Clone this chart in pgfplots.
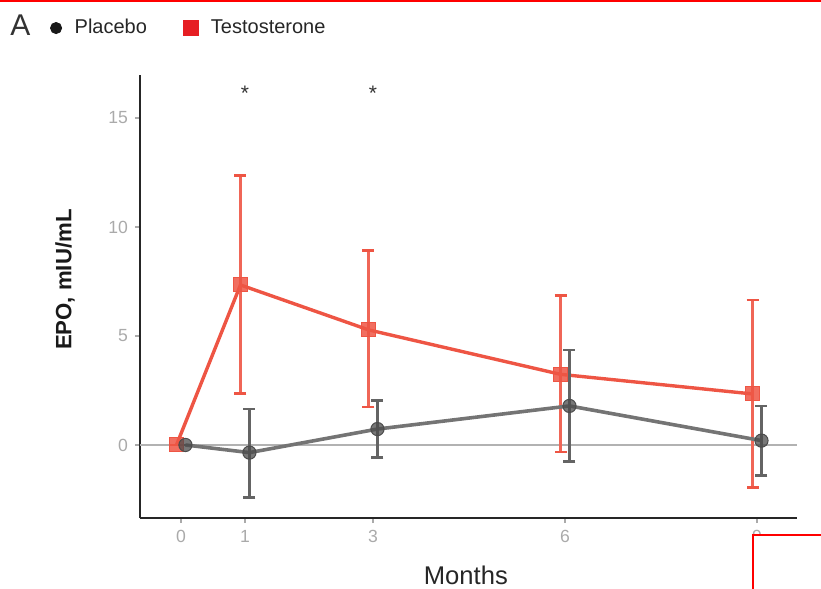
\documentclass[border=0pt]{standalone}
\usepackage{pgfplots}
\usepackage{pgfplotstable}
\pgfplotsset{compat=1.18}
\usepackage{fontspec}
\setmainfont{Liberation Sans}

\definecolor{tred}{RGB}{238,85,68}
\definecolor{pgray}{RGB}{100,100,100}
\definecolor{legred}{RGB}{230,30,35}
\definecolor{ticklab}{RGB}{170,170,170}

\pgfplotstableread{
x y ep em
-0.07 0 0 0
0.93 7.34 5.01 4.97
2.93 5.28 3.65 3.54
5.93 3.24 3.61 3.56
8.93 2.34 4.31 4.30
}\testo

\pgfplotstableread{
x y ep em
0.07 0 0 0
1.07 -0.35 2.0 2.07
3.07 0.73 1.32 1.31
6.07 1.79 2.57 2.55
9.07 0.2 1.59 1.61
}\placebo

\begin{document}
\begin{tikzpicture}
\path[use as bounding box] (0,0) rectangle (410.5pt,-294.5pt);
\begin{axis}[
  at={(70pt,-259pt)}, anchor=south west,
  scale only axis, width=328.5pt, height=221.5pt,
  xmin=-0.64, xmax=9.625, ymin=-3.35, ymax=16.97,
  axis lines*=left,
  axis line style={black!85, line width=1.3pt},
  xtick={0,1,3,6,9}, ytick={0,5,10,15},
  tick align=outside, major tick length=2.5pt,
  tick style={ticklab, line width=0.7pt},
  tick label style={font=\fontsize{8.8}{10}\selectfont, text=ticklab},
  /pgf/number format/assume math mode=true,
  xlabel={Months},
  ylabel={\textbf{EPO, mIU/mL}},
  xlabel style={at={(axis description cs:0.496,-0.129)}, anchor=center, font=\fontsize{12.8}{14}\selectfont, text=black!85},
  ylabel style={at={(axis description cs:-0.114,0.538)}, anchor=center, font=\fontsize{11.1}{13}\selectfont, text=black!90},
  legend style={at={(axis description cs:-0.146,1.106)}, anchor=west, draw=none, fill=none,
    font=\fontsize{10}{12}\selectfont, text=black!85, legend columns=2,
    /tikz/every odd column/.append style={column sep=4.5pt},
    /tikz/every even column/.append style={column sep=16pt}},
  legend cell align=left,
  legend image code/.code={\draw[#1] plot coordinates {(3pt,0pt)};},
  clip=false,
]
\addlegendimage{only marks, mark=*, mark size=2.8pt, black!90, fill=black!90}
\addlegendentry{Placebo}
\addlegendimage{only marks, mark=square*, mark size=3.75pt, legred, fill=legred}
\addlegendentry{Testosterone}

\addplot[ticklab!90, line width=0.6pt, forget plot] coordinates {(-0.64,0) (9.625,0)};

\addplot[forget plot, tred, line width=1.7pt, mark=square*, mark size=3.5pt,
  mark options={fill=tred, draw=tred, fill opacity=0.85, line width=0.5pt},
  error bars/.cd, y dir=both, y explicit,
  error bar style={line width=1.8pt, tred!90},
  error mark options={rotate=90, line width=1.4pt, mark size=3pt, tred}]
  table[x=x, y=y, y error plus=ep, y error minus=em]{\testo};

\addplot[forget plot, pgray!90, line width=1.8pt, mark=*, mark size=3.3pt,
  mark options={fill=pgray!75!black, draw=pgray!75!black, fill opacity=0.75, line width=0.5pt},
  error bars/.cd, y dir=both, y explicit,
  error bar style={line width=1.8pt, pgray},
  error mark options={rotate=90, line width=1.4pt, mark size=3pt, pgray}]
  table[x=x, y=y, y error plus=ep, y error minus=em]{\placebo};

\node[anchor=north, inner sep=0pt, font=\fontsize{10.5}{12}\selectfont, text=black!80] at (axis cs:1,16.47) {*};
\node[anchor=north, inner sep=0pt, font=\fontsize{10.5}{12}\selectfont, text=black!80] at (axis cs:3,16.47) {*};
\end{axis}
\node[anchor=base west, inner sep=0pt, font=\fontsize{15}{18}\selectfont, text=black!80] at (5pt,-17.5pt) {A};
\draw[red, line width=1.2pt] (0,-0.5pt) -- (410.5pt,-0.5pt);
\draw[red, line width=1pt, fill=white] (376.5pt,-267.5pt) rectangle (414pt,-298pt);
\end{tikzpicture}
\end{document}
